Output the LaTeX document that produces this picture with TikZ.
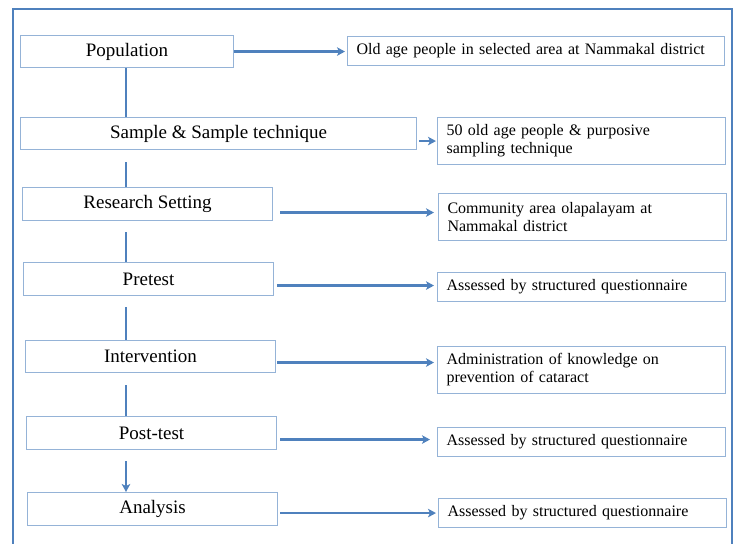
\documentclass[tikz,border=0pt]{standalone}
\usepackage{fontspec}
\setmainfont{Liberation Serif}
\usepackage{xcolor}
\usetikzlibrary{positioning, arrows.meta, calc}
\definecolor{frameblue}{HTML}{4F81BD}
\definecolor{boxblue}{HTML}{95B3D7}

\begin{document}
\begin{tikzpicture}[
    x=1pt, y=-1pt,
    stage/.style={
        rectangle,
        draw=boxblue,
        line width=1.1pt,
        anchor=north west,
        minimum height=33pt,
        align=center,
        inner sep=0pt,
        font=\fontsize{19}{22}\selectfont
    },
    detail/.style={
        rectangle,
        draw=boxblue,
        line width=1.1pt,
        anchor=north west,
        text width=#1,
        minimum height=29pt,
        align=left,
        inner xsep=9pt,
        font=\fontsize{16}{18}\selectfont
    },
    detail/.default=270pt,
    tall/.style={minimum height=47pt},
    link/.style={draw=frameblue, line width=2.4pt},
    arr/.style={link, -{Stealth[length=8pt, width=8.5pt, inset=2pt]}}
]
\useasboundingbox (0,0) rectangle (737,544);
\draw[frameblue, line width=2pt] (13,544) -- (13,9) -- (732,9) -- (732,544);

% left column
\node[stage, minimum width=213pt, minimum height=32pt] (pop)  at (20,35)  {Population};
\node[stage, minimum width=396pt, minimum height=32pt] (samp) at (20,117) {Sample \& Sample technique};
\node[stage, minimum width=250pt] (res)  at (22,187) {Research Setting};
\node[stage, minimum width=250pt] (pre)  at (23,262) {Pretest};
\node[stage, minimum width=250pt, minimum height=32pt] (int)  at (25,340) {Intervention};
\node[stage, minimum width=250pt] (post) at (26,416) {Post-test};
\node[stage, minimum width=250pt] (ana)  at (27,492) {Analysis};

% right column
\node[detail=359pt] (old)   at (347,36)  {Old age people in selected area at Nammakal district};
\node[detail, tall] (fifty) at (437,117) {50 old age people \& purposive\\sampling technique};
\node[detail, tall] (comm)  at (438,193) {Community area olapalayam at\\Nammakal district};
\node[detail]       (ass1)  at (437,272) {Assessed by structured questionnaire};
\node[detail, tall] (adm)   at (437,346) {Administration of knowledge on\\prevention of cataract};
\node[detail]       (ass2)  at (437,427) {Assessed by structured questionnaire};
\node[detail]       (ass3)  at (438,498) {Assessed by structured questionnaire};

% spine
\coordinate (spine) at (126,0);
\draw[link] (pop.south -| spine) -- (samp.north -| spine);
\draw[link, shorten <=12pt] (samp.south -| spine) -- (res.north -| spine);
\draw[link, shorten <=11pt] (res.south -| spine) -- (pre.north -| spine);
\draw[link, shorten <=11pt] (pre.south -| spine) -- (int.north -| spine);
\draw[link, shorten <=12pt] (int.south -| spine) -- (post.north -| spine);
\draw[arr, shorten <=11pt] (post.south -| spine) -- (ana.north -| spine);

% side arrows
\draw[arr, shorten >=2pt] (pop.east) -- (pop.east -| old.west);
\draw[arr, shorten <=2pt, shorten >=1pt] (samp.east |- fifty.west) -- (fifty.west);
\draw[arr, shorten <=7pt, shorten >=4pt] ($(res.east |- comm.west)+(0,-4.5)$) -- ($(comm.west)+(0,-4.5)$);
\draw[arr, shorten <=3pt, shorten >=3pt] ($(pre.east |- ass1.west)+(0,-1.5)$) -- ($(ass1.west)+(0,-1.5)$);
\draw[arr, shorten <=1pt, shorten >=3pt] ($(int.east |- adm.west)+(0,-7.5)$) -- ($(adm.west)+(0,-7.5)$);
\draw[arr, shorten <=3pt, shorten >=7pt] ($(post.east |- ass2.west)+(0,-2.5)$) -- ($(ass2.west)+(0,-2.5)$);
\draw[arr, shorten <=2pt, shorten >=2pt] (ana.east |- ass3.west) -- (ass3.west);
\end{tikzpicture}
\end{document}
